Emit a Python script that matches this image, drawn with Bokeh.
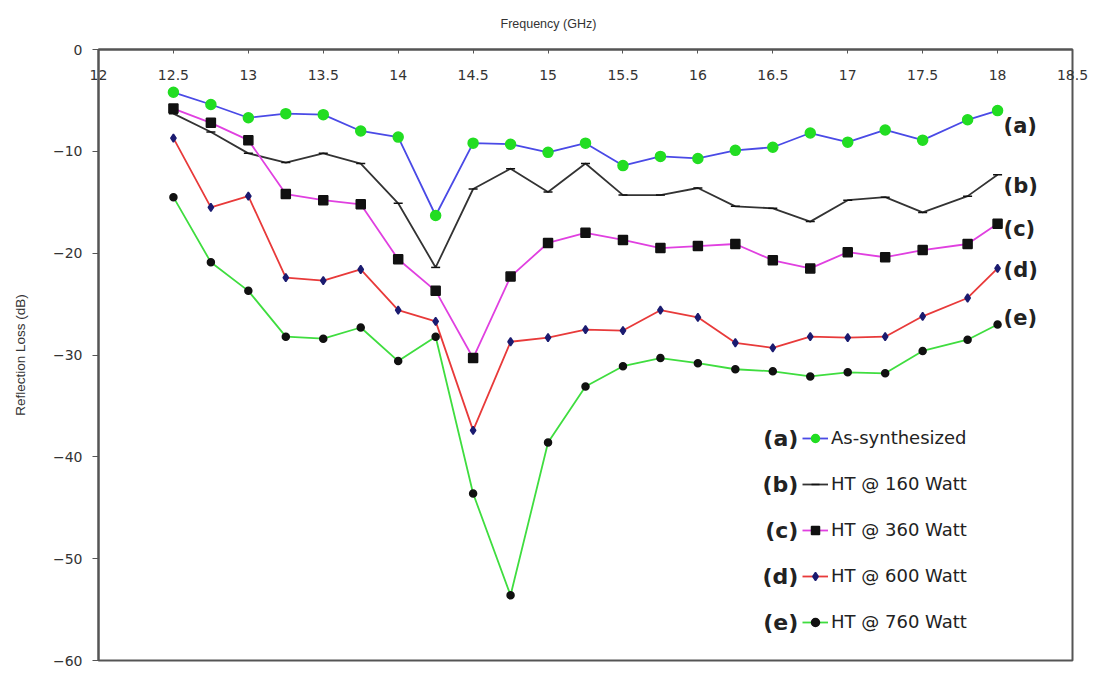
from bokeh.plotting import figure
from bokeh.models import FixedTicker, Legend, LegendItem, Label, Range1d, NumeralTickFormatter
from bokeh.embed import file_html
from bokeh.resources import INLINE

# ---------------- data ----------------
freq = [12.5, 12.75, 13, 13.25, 13.5, 13.75, 14, 14.25, 14.5, 14.75, 15, 15.25,
        15.5, 15.75, 16, 16.25, 16.5, 16.75, 17, 17.25, 17.5, 17.8, 18]
rl_a = [-4.2, -5.4, -6.7, -6.3, -6.4, -8.0, -8.6, -16.3, -9.2, -9.3, -10.1, -9.2,
        -11.4, -10.5, -10.7, -9.9, -9.6, -8.2, -9.1, -7.9, -8.9, -6.9, -6.0]
rl_b = [-6.3, -8.1, -10.2, -11.1, -10.2, -11.2, -15.1, -21.4, -13.7, -11.7, -14.0, -11.2,
        -14.3, -14.3, -13.6, -15.4, -15.6, -16.9, -14.8, -14.5, -16.0, -14.4, -12.3]
rl_c = [-5.8, -7.2, -8.9, -14.2, -14.8, -15.2, -20.6, -23.7, -30.3, -22.3, -19.0, -18.0,
        -18.7, -19.5, -19.3, -19.1, -20.7, -21.5, -19.9, -20.4, -19.7, -19.1, -17.1]
rl_d = [-8.7, -15.5, -14.4, -22.4, -22.7, -21.6, -25.6, -26.7, -37.4, -28.7, -28.3, -27.5,
        -27.6, -25.6, -26.3, -28.8, -29.3, -28.2, -28.3, -28.2, -26.2, -24.4, -21.5]
rl_e = [-14.5, -20.9, -23.7, -28.2, -28.4, -27.3, -30.6, -28.2, -43.6, -53.6, -38.6, -33.1,
        -31.1, -30.3, -30.8, -31.4, -31.6, -32.1, -31.7, -31.8, -29.6, -28.5, -27.0]

series_tags = ["(a)", "(b)", "(c)", "(d)", "(e)"]
series_names = ["As-synthesized", "HT @ 160 Watt", "HT @ 360 Watt", "HT @ 600 Watt", "HT @ 760 Watt"]
x_ticks = [12, 12.5, 13, 13.5, 14, 14.5, 15, 15.5, 16, 16.5, 17, 17.5, 18, 18.5]
y_ticks = [0, -10, -20, -30, -40, -50, -60]
x_title = "Frequency (GHz)"
y_title = "Reflection Loss (dB)"

# ---------------- figure ----------------
p = figure(width=1095, height=675, x_range=Range1d(12, 18.5), y_range=Range1d(-60, 0),
           output_backend="svg", toolbar_location=None, x_axis_location="above",
           title=x_title, title_location="above",
           min_border_left=98, min_border_right=23, min_border_top=49, min_border_bottom=15)
p.background_fill_color = "white"
p.border_fill_color = "white"
p.xgrid.visible = False
p.ygrid.visible = False
p.outline_line_color = "#555555"
p.outline_line_width = 2

FONT = "Liberation Sans"
TICKFONT = "DejaVu Sans"

# the frequency-axis title sits above the frame, left of centre as in the original
p.title.align = "left"
p.title.offset = 402
p.title.vertical_align = "top"
p.title.standoff = 33
p.title.text_font = FONT
p.title.text_font_style = "normal"
p.title.text_font_size = "12.5px"
p.title.text_color = "#333333"

xa = p.xaxis[0]
xa.ticker = FixedTicker(ticks=x_ticks)
xa.formatter = NumeralTickFormatter(format="0.[0]")
xa.axis_line_color = "#555555"
xa.axis_line_width = 2
xa.major_tick_in = 4
xa.major_tick_out = 0
xa.major_tick_line_color = "#555555"
xa.minor_tick_line_color = None
xa.major_label_standoff = -30
xa.major_label_text_font = TICKFONT
xa.major_label_text_font_size = "14px"
xa.major_label_text_color = "#333333"

ya = p.yaxis[0]
ya.ticker = FixedTicker(ticks=y_ticks)
ya.axis_line_color = "#555555"
ya.axis_line_width = 2
ya.major_tick_in = 0
ya.major_tick_out = 6
ya.major_tick_line_color = "#555555"
ya.minor_tick_line_color = None
ya.major_label_standoff = 10
ya.major_label_text_font = TICKFONT
ya.major_label_text_font_size = "14px"
ya.major_label_text_color = "#333333"
ya.axis_label = y_title
ya.axis_label_text_font = FONT
ya.axis_label_text_font_style = "normal"
ya.axis_label_text_font_size = "13.5px"
ya.axis_label_text_color = "#333333"
ya.axis_label_standoff = 22

# ---------------- series ----------------
styles = [
    dict(line="#4A4AE6", marker="circle", size=10, fill="#22DD22", mline="#22DD22"),
    dict(line="#333333", marker="dash", size=9, fill="#111111", mline="#111111"),
    dict(line="#E040E0", marker="square", size=9, fill="#111111", mline="#111111"),
    dict(line="#E83A3A", marker="diamond", size=8, fill="#1B1B70", mline="#1B1B70"),
    dict(line="#3FDD3F", marker="circle", size=7, fill="#111111", mline="#111111"),
]
all_series = [rl_a, rl_b, rl_c, rl_d, rl_e]

items = []
for vals, st, name in zip(all_series, styles, series_names):
    ln = p.line(freq, vals, line_color=st["line"], line_width=1.8)
    sc = p.scatter(freq, vals, marker=st["marker"], size=st["size"],
                   fill_color=st["fill"], line_color=st["mline"], line_width=1.5)
    items.append(LegendItem(label=name, renderers=[ln, sc]))

legend = Legend(items=items, location=(704, 28), orientation="vertical",
                border_line_color=None, background_fill_alpha=0,
                padding=0, margin=0, spacing=25, glyph_height=20, glyph_width=26,
                label_height=20, label_standoff=3,
                label_text_font="DejaVu Sans", label_text_font_size="18px",
                label_text_color="#222222")
p.add_layout(legend)

TAGFONT = "DejaVu Sans"
# tags at series ends
end_tag_y = [-7.5, -13.4, -17.6, -21.7, -26.4]
for tag, ty in zip(series_tags, end_tag_y):
    p.add_layout(Label(x=18.04, y=ty, text=tag, text_align="left", text_baseline="middle",
                       text_font=TAGFONT, text_font_style="bold", text_font_size="21px",
                       text_color="#222222"))

# tags in legend
legend_tag_y = [-38.2, -42.7, -47.2, -51.8, -56.3]
for tag, ty in zip(series_tags, legend_tag_y):
    p.add_layout(Label(x=16.67, y=ty, text=tag, text_align="right", text_baseline="middle",
                       text_font=TAGFONT, text_font_style="bold", text_font_size="22px",
                       text_color="#222222"))

open("out.html", "w").write(file_html(p, INLINE))
